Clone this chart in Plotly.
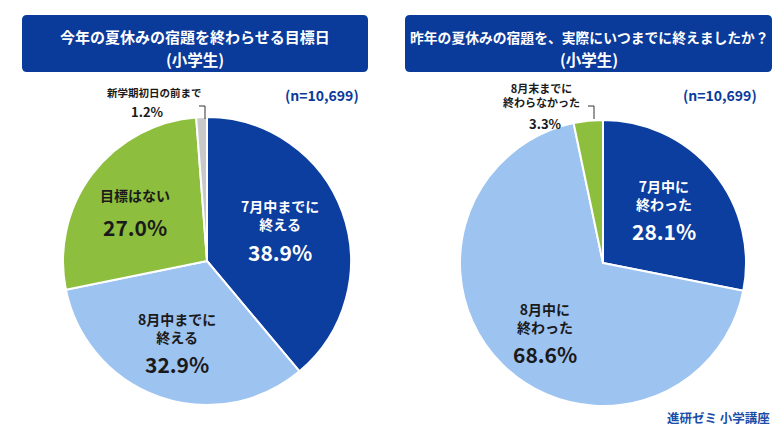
import plotly.graph_objects as go

W, H = 780, 438

# ---- data ----
left_labels = ["7月中までに<br>終える", "8月中までに<br>終える", "目標はない", "新学期初日の前まで"]
left_values = [38.9, 32.9, 27.0, 1.2]
right_labels = ["7月中に<br>終わった", "8月中に<br>終わった", "8月末までに<br>終わらなかった"]
right_values = [28.1, 68.6, 3.3]
left_title = ["今年の夏休みの宿題を終わらせる目標日", "(小学生)"]
right_title = ["昨年の夏休みの宿題を、実際にいつまでに終えましたか？", "(小学生)"]
n_text = "(n=10,699)"
footer = "進研ゼミ 小学講座"

DARK = "#0B3E9E"
LIGHT = "#9DC3F0"
GREEN = "#8DBE3E"
GRAY = "#C9C9C9"
HEAD = "#0A3A9A"
TXT = "#1a1a1a"
FONT = "Noto Sans CJK JP"

left_colors = [DARK, LIGHT, GREEN, GRAY]
right_colors = [DARK, LIGHT, GREEN]

# pie geometry in pixels
LC, LR = (207, 261), 144
RC, RR = (603, 263), 143


def px(x):
    return x / W


def py(y):
    return 1 - y / H


def dom(c, r):
    return dict(x=[px(c[0] - r), px(c[0] + r)], y=[py(c[1] + r), py(c[1] - r)])


fig = go.Figure()
for vals, cols, c, r in [(left_values, left_colors, LC, LR), (right_values, right_colors, RC, RR)]:
    fig.add_trace(go.Pie(values=vals, marker=dict(colors=cols, line=dict(color="white", width=2)),
                         sort=False, direction="clockwise", rotation=0, textinfo="none",
                         hoverinfo="skip", showlegend=False, domain=dom(c, r)))

ann = []
shapes = []


def text(x, y, t, size, color, yanchor="middle"):
    ann.append(dict(x=px(x), y=py(y), xref="paper", yref="paper", text=t, showarrow=False,
                    xanchor="center", yanchor=yanchor,
                    font=dict(family=FONT, size=size, color=color, weight="bold"),
                    align="center"))


def rbox(x0, y0, x1, y1, rr, color):
    pts = [("M", x0 + rr, y0), ("L", x1 - rr, y0), ("Q", x1, y0, x1, y0 + rr), ("L", x1, y1 - rr),
           ("Q", x1, y1, x1 - rr, y1), ("L", x0 + rr, y1), ("Q", x0, y1, x0, y1 - rr),
           ("L", x0, y0 + rr), ("Q", x0, y0, x0 + rr, y0)]
    out = []
    for p in pts:
        cmd = p[0]
        coords = p[1:]
        s = " ".join(f"{px(coords[i]):.5f},{py(coords[i+1]):.5f}" for i in range(0, len(coords), 2))
        out.append(f"{cmd} {s}")
    shapes.append(dict(type="path", xref="paper", yref="paper", path=" ".join(out) + " Z",
                       fillcolor=color, line=dict(width=0), layer="below"))


rbox(22, 15, 368, 72, 5, HEAD)
rbox(405, 15, 772, 72, 5, HEAD)
text(195, 37, left_title[0], 15, "white")
text(195, 59, left_title[1], 15.5, "white")
text(589, 37, right_title[0], 13.8, "white")
text(589, 59, right_title[1], 15.5, "white")

text(322, 95, n_text, 14, HEAD)
text(720, 95, n_text, 14, HEAD)
text(718, 417, footer, 12.5, "#1B4EA8")

# inside labels: (label center x, label bottom y, percent center y)
left_pos = [(280, 236, 252), (177, 349, 364), (135, 207, 227)]
right_pos = [(664, 216, 231), (545, 339, 354)]
left_tc = ["white", TXT, TXT]
right_tc = ["white", TXT]

for labels, values, pos, tc in [(left_labels, left_values, left_pos, left_tc),
                                (right_labels, right_values, right_pos, right_tc)]:
    for i, (x, yb, yp) in enumerate(pos):
        text(x, yb, labels[i], 14, tc[i], yanchor="bottom")
        text(x, yp, f"{values[i]:.1f}%", 21, tc[i])

# outside labels for small slices
text(154, 102, left_labels[3], 10.5, TXT, yanchor="bottom")
text(147, 111, f"{left_values[3]:.1f}%", 13, TXT)
text(541, 112, right_labels[2], 11, TXT, yanchor="bottom")
text(545, 123, f"{right_values[2]:.1f}%", 13, TXT)


def leader(xh0, x, y0, y1):
    shapes.append(dict(type="path", xref="paper", yref="paper",
                       path=f"M {px(xh0)},{py(y0)} L {px(x)},{py(y0)} L {px(x)},{py(y1)}",
                       line=dict(color="#333333", width=1)))


leader(199, 205, 106, 119)
leader(588, 594, 106, 119)

fig.update_layout(width=W, height=H, margin=dict(l=0, r=0, t=0, b=0),
                  paper_bgcolor="white", plot_bgcolor="white",
                  annotations=ann, shapes=shapes)
fig.write_html("out.html")
